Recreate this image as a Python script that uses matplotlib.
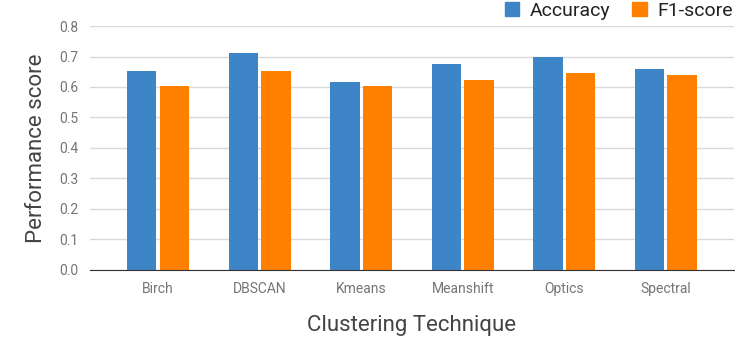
import numpy as np
import matplotlib.pyplot as plt
from matplotlib.patches import Patch

plt.rcParams['font.family'] = ['Roboto', 'DejaVu Sans']

techniques = ['Birch', 'DBSCAN', 'Kmeans', 'Meanshift', 'Optics', 'Spectral']
accuracy = [0.652, 0.713, 0.615, 0.677, 0.697, 0.660]
f1_score = [0.603, 0.652, 0.603, 0.624, 0.645, 0.639]

BLUE = '#3d85c6'
ORANGE = '#ff7f00'

fig = plt.figure(figsize=(7.35, 3.39), dpi=100)
ax = fig.add_axes([0.1224, 0.205, 0.8762, 0.718])

x = np.arange(len(techniques))
w = 0.29
ax.bar(x - 0.16, accuracy, w, color=BLUE, zorder=3)
ax.bar(x + 0.16, f1_score, w, color=ORANGE, zorder=3)

ax.set_xlim(-0.67, 5.67)
ax.set_ylim(0, 0.8)
ax.set_yticks(np.arange(0, 0.81, 0.1))
ax.set_yticklabels([f'{v:.1f}' for v in np.arange(0, 0.81, 0.1)])
ax.set_xticks(x)
ax.set_xticklabels(techniques)

ax.grid(axis='y', color='#d9d9d9', linewidth=1, zorder=0)
for s in ['top', 'right', 'left']:
    ax.spines[s].set_visible(False)
ax.spines['bottom'].set_color('#333333')
ax.spines['bottom'].set_zorder(4)
ax.tick_params(axis='both', length=0, labelsize=10, labelcolor='#757575')
ax.tick_params(axis='y', pad=8)
ax.tick_params(axis='x', pad=9)

ax.set_xlabel('Clustering Technique', fontsize=16, color='#444444', labelpad=14)
ax.set_ylabel('Performance score', fontsize=16, color='#444444', labelpad=9)

handles = [Patch(color=BLUE, label='Accuracy'), Patch(color=ORANGE, label='F1-score')]
fig.legend(handles=handles, loc='upper right', bbox_to_anchor=(1.0, 1.0), ncol=2,
           frameon=False, fontsize=14, handlelength=0.75, handleheight=0.75,
           handletextpad=0.55, columnspacing=1.1, labelcolor='#222222',
           borderaxespad=0.0, borderpad=0.1)

fig.savefig('out.png', dpi=100)
